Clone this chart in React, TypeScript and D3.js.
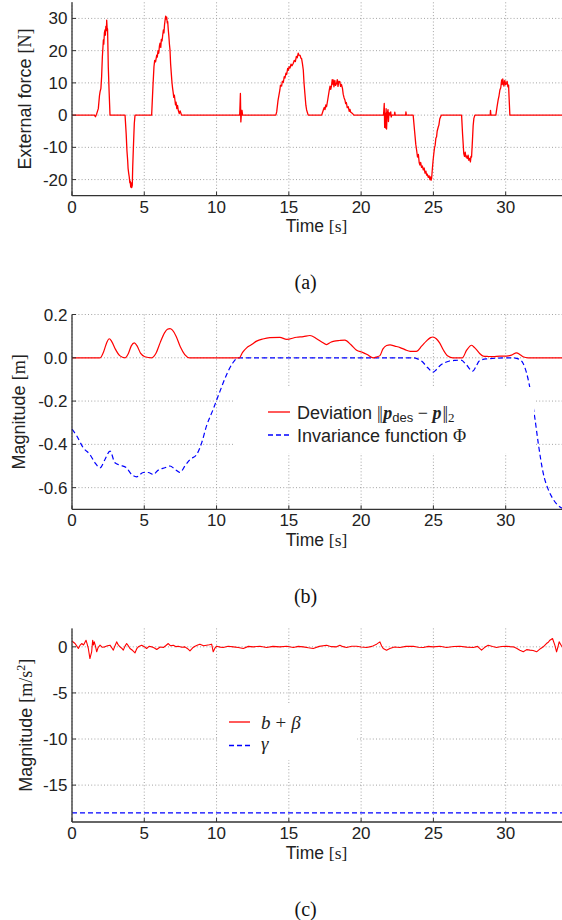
import React from "react";
import * as d3 from "d3";

// ---------- DATA ----------
const xTicks = [0, 5, 10, 15, 20, 25, 30];
const forceTicks = [30, 20, 10, 0, -10, -20];
const magTicksB = [0.2, 0.0, -0.2, -0.4, -0.6];
const magTicksC = [0, -5, -10, -15];

// (a) external force [t, F]
const forceData: [number, number][] = [
  [0, 0], [1.55, 0], [1.62, -0.5], [1.7, 0.3], [1.82, 2], [1.9, 6], [1.94, 7.2], [2.0, 8.3], [2.05, 12], [2.1, 18],
  [2.17, 23.3], [2.2, 22], [2.24, 25.5], [2.28, 26.4], [2.31, 24.8], [2.34, 27.5], [2.38, 26.2], [2.4, 29.5], [2.43, 27],
  [2.46, 26.7], [2.49, 20], [2.51, 15], [2.57, 7], [2.63, 0],
  [3.67, 0], [3.75, -6], [3.8, -11], [3.85, -14], [3.88, -16.5], [3.92, -18], [3.96, -19.2], [4.0, -21], [4.03, -20.5],
  [4.06, -22.3], [4.1, -21], [4.13, -22.5], [4.17, -21.8], [4.2, -16], [4.24, -10.9], [4.28, -6], [4.31, -2.6], [4.36, 0],
  [5.51, 0], [5.6, 9], [5.67, 15], [5.72, 17], [5.78, 16.5], [5.86, 18.6], [5.9, 18], [5.95, 20], [6.0, 19.2], [6.05, 21.5],
  [6.09, 22.3], [6.14, 21], [6.18, 23.5], [6.23, 23], [6.28, 25], [6.32, 26.4], [6.36, 25.5], [6.4, 28], [6.44, 29.5],
  [6.48, 30.7], [6.52, 29.8], [6.55, 30.4], [6.59, 28.6], [6.62, 29], [6.66, 26.5], [6.7, 24.5], [6.74, 22], [6.78, 20.2],
  [6.82, 16], [6.86, 13.5], [6.9, 11], [6.93, 9.5], [6.96, 8.3], [7.0, 7], [7.04, 5.5], [7.08, 6.2], [7.12, 4.7], [7.16, 3.2],
  [7.2, 4], [7.25, 2], [7.3, 3], [7.35, 1.5], [7.42, 0.5], [7.48, 1.3], [7.58, 0],
  [11.6, 0], [11.65, 6.7], [11.68, -2.1], [11.72, 0.5], [11.76, 1.5], [11.8, 0],
  [14.1, 0], [14.16, 1], [14.25, 4.5], [14.38, 7.8], [14.42, 9.3], [14.5, 9], [14.55, 10.5], [14.62, 10.2], [14.68, 11.9],
  [14.73, 11.5], [14.8, 13], [14.85, 12.6], [14.92, 14.5], [14.96, 13.9], [15.02, 15], [15.08, 14.6], [15.15, 15.8],
  [15.22, 15.3], [15.3, 16], [15.38, 17], [15.45, 16.6], [15.52, 18.2], [15.58, 17.8], [15.65, 19.2], [15.7, 18.6],
  [15.78, 18.5], [15.84, 17.6], [15.88, 17.6], [15.94, 16], [16.0, 14], [16.05, 10], [16.11, 6.7], [16.18, 3], [16.23, 1.6],
  [16.34, 0],
  [17.27, 0], [17.38, 1.5], [17.45, 2.4], [17.5, 1.7], [17.56, 3.2], [17.61, 2.6], [17.7, 5], [17.8, 7.8], [17.85, 9],
  [17.9, 8], [17.96, 9.3], [18.0, 11], [18.04, 9.6], [18.07, 10.9], [18.12, 8.8], [18.18, 10.8], [18.23, 9.2], [18.3, 9.8],
  [18.35, 11], [18.4, 8.9], [18.46, 10.5], [18.53, 10.4], [18.58, 8.9], [18.64, 9.5], [18.71, 8.3], [18.76, 6.5],
  [18.82, 5.4], [18.88, 4.7], [18.93, 3.6], [18.98, 3.9], [19.04, 2.3], [19.11, 2.6], [19.18, 1.2], [19.23, 1.8],
  [19.27, 1], [19.38, 0.6], [19.5, 0],
  [21.55, 0], [21.6, 3.6], [21.63, -3.8], [21.67, 0.5], [21.7, -4], [21.73, 2], [21.76, -4.3], [21.8, 0.2], [21.86, 1.7],
  [21.89, -2], [21.93, 0.8], [22.0, 0], [22.05, 1], [22.08, -0.6], [22.12, 0], [22.3, 0], [22.33, 0.9], [22.36, 0],
  [23.08, 0], [23.1, 1], [23.13, 0],
  [23.6, 0], [23.7, -5], [23.78, -9], [23.84, -10.9], [23.9, -13], [23.96, -12.2], [24.02, -14.8], [24.07, -15.5],
  [24.12, -14.7], [24.18, -16.2], [24.24, -15.8], [24.3, -17], [24.36, -16.4], [24.42, -18], [24.48, -17.4], [24.53, -18.6],
  [24.58, -18.3], [24.64, -19.3], [24.7, -18.8], [24.76, -20], [24.8, -19.2], [24.84, -20.2], [24.88, -19.5], [24.94, -16],
  [24.98, -14], [25.03, -11.9], [25.08, -10], [25.12, -9.4], [25.17, -7.2], [25.22, -6.7], [25.26, -5], [25.3, -4.3],
  [25.34, -3.6], [25.38, -3.1], [25.44, -1.2], [25.5, -0.5], [25.56, 0],
  [26.95, 0], [27.02, -6], [27.1, -11.9], [27.15, -12.8], [27.2, -11.5], [27.25, -13], [27.29, -12.7], [27.34, -13.5],
  [27.4, -12.4], [27.45, -14], [27.52, -13.4], [27.56, -14.5], [27.6, -12.8], [27.64, -13], [27.7, -8], [27.75, -3.3],
  [27.8, -1], [27.87, 0],
  [28.93, 0], [28.95, 1.5], [28.98, 0],
  [29.32, 0], [29.4, 2.5], [29.48, 4.7], [29.54, 6], [29.6, 7.8], [29.66, 8.5], [29.72, 10.9], [29.76, 9.5], [29.8, 11.2],
  [29.83, 10.4], [29.88, 9], [29.94, 10.8], [30.0, 9.5], [30.06, 9.8], [30.1, 10.5], [30.15, 8.8], [30.2, 9.3], [30.24, 5],
  [30.29, 0], [34, 0],
];

// (b) deviation ||p_des - p||_2
const deviationData: [number, number][] = [
  [0, 0], [1.94, 0], [2.2, 0.03], [2.4, 0.07], [2.58, 0.088], [2.75, 0.075], [3.0, 0.04], [3.3, 0.01], [3.67, 0],
  [3.9, 0.02], [4.1, 0.055], [4.31, 0.069], [4.5, 0.055], [4.75, 0.02], [5.04, 0.005], [5.5, 0], [5.8, 0.02],
  [6.1, 0.07], [6.4, 0.115], [6.6, 0.132], [6.78, 0.135], [6.95, 0.128], [7.2, 0.1], [7.5, 0.05], [7.8, 0.015],
  [8.14, 0], [11.57, 0], [11.8, 0.025], [12.08, 0.046], [12.4, 0.06], [12.77, 0.077], [13.2, 0.087], [13.69, 0.093],
  [14.38, 0.094], [14.85, 0.085], [15.54, 0.095], [16.0, 0.098], [16.46, 0.103], [16.92, 0.088], [17.3, 0.072],
  [17.61, 0.061], [17.9, 0.072], [18.15, 0.077], [18.5, 0.08], [18.88, 0.082], [19.3, 0.06], [19.69, 0.035],
  [20.1, 0.025], [20.42, 0.015], [20.84, 0.0], [21.1, 0.005], [21.3, 0.01], [21.5, 0.04], [21.76, 0.057], [22.0, 0.06],
  [22.33, 0.054], [22.7, 0.047], [23.03, 0.038], [23.4, 0.03], [23.82, 0.03], [24.2, 0.055], [24.51, 0.077],
  [24.8, 0.093], [24.97, 0.096], [25.2, 0.088], [25.43, 0.069], [25.7, 0.035], [26.0, 0.008], [26.35, 0], [27.0, 0],
  [27.3, 0.035], [27.64, 0.058], [27.8, 0.05], [27.98, 0.038], [28.2, 0.02], [28.44, 0.008], [28.8, 0.006],
  [29.13, 0.005], [29.6, 0.008], [30.06, 0.008], [30.4, 0.012], [30.75, 0.023], [31.0, 0.014], [31.2, 0.005],
  [31.55, 0], [34, 0],
];

// (b) invariance function Phi
const invarianceData: [number, number][] = [
  [0, -0.33], [0.32, -0.36], [0.78, -0.416], [1.24, -0.447], [1.59, -0.485], [1.94, -0.508], [2.28, -0.47],
  [2.63, -0.431], [2.97, -0.485], [3.32, -0.496], [3.76, -0.508], [4.12, -0.539], [4.47, -0.55], [4.93, -0.53],
  [5.28, -0.53], [5.62, -0.539], [5.95, -0.52], [6.43, -0.508], [6.78, -0.5], [7.12, -0.515], [7.47, -0.53],
  [7.81, -0.5], [8.16, -0.47], [8.62, -0.447], [8.97, -0.393], [9.3, -0.316], [9.76, -0.239], [10.24, -0.154],
  [10.7, -0.077], [11.13, -0.023], [11.5, 0], [23.6, 0], [23.9, -0.005], [24.18, -0.015], [24.6, -0.045],
  [24.97, -0.066], [25.2, -0.055], [25.43, -0.038], [25.8, -0.022], [26.12, -0.015], [26.5, -0.012], [26.92, -0.011],
  [27.26, -0.031], [27.72, -0.062], [27.95, -0.04], [28.17, -0.015], [28.64, -0.005], [30.5, 0], [30.98, -0.008],
  [31.2, -0.025], [31.44, -0.069], [31.78, -0.177], [32.0, -0.27], [32.25, -0.393], [32.59, -0.531], [32.94, -0.608],
  [33.29, -0.654], [33.73, -0.688], [34, -0.697],
];

// (c) b + beta
const bBetaData: [number, number][] = [
  [0, 0.65], [0.1, 0.5], [0.21, 0.36], [0.32, 0.1], [0.44, -0.18], [0.55, 0.15], [0.67, 0.36], [0.8, 0.2], [0.97, 0.72],
  [1.05, 0.3], [1.13, -0.18], [1.24, -1.27], [1.3, -0.9], [1.36, -0.54], [1.43, 0.72], [1.48, 0.2], [1.54, 0.54],
  [1.62, 0.1], [1.71, -0.54], [1.8, -0.1], [1.94, 0.18], [2.1, -0.05], [2.28, 0], [2.45, 0.12], [2.63, 0.18],
  [2.75, -0.1], [2.86, -0.36], [2.97, 0.1], [3.09, 0.54], [3.2, 0.2], [3.32, 0], [3.44, -0.15], [3.55, -0.36],
  [3.66, 0.05], [3.78, 0.36], [3.9, 0.1], [4.01, -0.18], [4.2, -0.4], [4.36, -0.65], [4.48, -0.2], [4.59, 0],
  [4.7, 0.1], [4.82, 0.18], [5.0, 0.02], [5.16, -0.18], [5.33, 0.06], [5.51, 0], [5.7, -0.12], [5.86, -0.29],
  [6.1, -0.02], [6.32, -0.07], [6.5, 0.15], [6.66, 0.36], [6.8, 0.12], [7.01, 0.18], [7.2, 0.02], [7.35, 0.07],
  [7.6, -0.05], [7.81, 0], [8.0, -0.2], [8.16, -0.43], [8.35, -0.1], [8.51, 0.07], [8.7, 0.2], [8.85, 0.29],
  [9.1, 0.12], [9.31, 0.18], [9.5, 0.22], [9.66, 0.29], [9.77, -0.54], [9.9, -0.1], [10.0, 0.07], [10.25, -0.03],
  [10.46, -0.07], [10.8, 0.06], [11.16, 0], [11.5, -0.08], [11.85, -0.18], [12.2, 0.05], [12.54, 0], [13.0, 0.06],
  [13.46, -0.07], [13.9, 0.05], [14.38, 0], [14.85, 0.06], [15.31, -0.07], [15.65, 0.05], [16.0, 0], [16.35, -0.1],
  [16.69, -0.18], [17.1, 0.05], [17.61, 0.18], [17.95, 0.02], [18.3, 0], [18.53, 0.18], [18.75, 0.02], [18.99, -0.07],
  [19.35, 0.06], [19.69, 0.07], [20.0, -0.02], [20.38, -0.07], [20.75, 0.05], [21.07, 0.29], [21.3, 0.54],
  [21.42, 0.1], [21.53, -0.18], [21.76, -0.36], [21.99, -0.18], [22.3, -0.02], [22.68, -0.07], [23.1, 0.05],
  [23.61, 0.07], [23.95, -0.05], [24.3, -0.07], [24.65, 0.05], [24.99, 0], [25.45, 0.06], [25.91, -0.07],
  [26.4, 0.04], [26.83, 0.07], [27.3, -0.03], [27.76, -0.07], [28.05, 0.05], [28.33, -0.36], [28.55, -0.05],
  [28.79, 0.18], [29.1, 0.04], [29.37, -0.07], [29.7, 0.03], [30.06, 0.07], [30.3, 0.02], [30.52, 0], [30.75, -0.15],
  [30.98, -0.36], [31.22, -0.54], [31.45, -0.3], [31.68, -0.36], [31.9, -0.4], [32.14, -0.54], [32.4, -0.2],
  [32.6, 0], [32.82, 0.36], [32.95, 0.5], [33.06, 0.72], [33.24, 0.9], [33.4, 0.18], [33.52, -0.54], [33.6, -0.1],
  [33.7, 0.54], [33.9, 0], [34, 0.1],
];

// (c) gamma
const gammaData: [number, number][] = [[0, -18], [34, -18]];

// ---------- LAYOUT ----------
const W = 562;
const H = 920;
const X0 = 72;
const X1 = 563.5;
const SANS = "'Liberation Sans', Arial, Helvetica, sans-serif";
const SERIF = "'Liberation Serif', 'Times New Roman', serif";
const TICK_FS = 17;
const LABEL_FS = 18;

type PanelProps = {
  top: number;
  bottom: number;
  yDomain: [number, number];
  yTicks: number[];
  fmt: (v: number) => string;
  children: (x: d3.ScaleLinear<number, number>, y: d3.ScaleLinear<number, number>) => React.ReactNode;
  ylabel: React.ReactNode;
  ylabelX: number;
  caption: string;
  captionY: number;
};

function Panel({ top, bottom, yDomain, yTicks, fmt, children, ylabel, ylabelX, caption, captionY }: PanelProps) {
  const x = d3.scaleLinear().domain([0, 34]).range([X0, X1]);
  const y = d3.scaleLinear().domain(yDomain).range([bottom, top]);
  const midY = (top + bottom) / 2;
  return (
    <g>
      {xTicks.map((t) => (
        <line key={"gx" + t} x1={x(t)} x2={x(t)} y1={top} y2={bottom} stroke="#9a9a9a" strokeWidth={0.9} strokeDasharray="1,2.2" />
      ))}
      {yTicks.map((t) => (
        <line key={"gy" + t} x1={X0} x2={W} y1={y(t)} y2={y(t)} stroke="#9a9a9a" strokeWidth={0.9} strokeDasharray="1,2.2" />
      ))}
      {children(x, y)}
      <line x1={X0} x2={X0} y1={top} y2={bottom} stroke="#333" strokeWidth={1.3} />
      <line x1={X0} x2={W} y1={bottom} y2={bottom} stroke="#333" strokeWidth={1.3} />
      {xTicks.map((t) => (
        <g key={"tx" + t}>
          <line x1={x(t)} x2={x(t)} y1={bottom} y2={bottom - 4} stroke="#333" strokeWidth={1} />
          <text x={x(t)} y={bottom + 17} textAnchor="middle" fontFamily={SANS} fontSize={TICK_FS} fill="#222">
            {t}
          </text>
        </g>
      ))}
      {yTicks.map((t) => (
        <g key={"ty" + t}>
          <line x1={X0} x2={X0 + 4} y1={y(t)} y2={y(t)} stroke="#333" strokeWidth={1} />
          <text x={X0 - 4.5} y={y(t) + 6} textAnchor="end" fontFamily={SANS} fontSize={TICK_FS} fill="#222">
            {fmt(t)}
          </text>
        </g>
      ))}
      <text x={316.5} y={bottom + 36.5} textAnchor="middle" fontFamily={SANS} fontSize={17.5} fill="#222">
        Time <tspan fontFamily={SERIF}>[s]</tspan>
      </text>
      <text
        transform={`translate(${ylabelX},${midY}) rotate(-90)`}
        textAnchor="middle"
        fontFamily={SANS}
        fontSize={LABEL_FS}
        fill="#222"
      >
        {ylabel}
      </text>
      <text x={305.6} y={captionY} textAnchor="middle" fontFamily={SERIF} fontSize={20} fill="#111">
        {caption}
      </text>
    </g>
  );
}

export default function App() {
  const lineLin = (x: any, y: any) =>
    d3
      .line<[number, number]>()
      .x((d) => x(d[0]))
      .y((d) => y(d[1]))
      .curve(d3.curveLinear);
  const lineSmooth = (x: any, y: any) =>
    d3
      .line<[number, number]>()
      .x((d) => x(d[0]))
      .y((d) => y(d[1]))
      .curve(d3.curveMonotoneX);

  return (
    <svg width={W} height={H} style={{ position: "absolute", left: 0, top: 0, background: "#fff" }}>
      <rect x={0} y={0} width={W} height={H} fill="#fff" />
      {/* (a) */}
      <Panel
        top={2.3}
        bottom={195.7}
        yDomain={[-25, 35]}
        yTicks={forceTicks}
        fmt={(v) => String(v)}
        ylabel={
          <>
            External force <tspan fontFamily={SERIF}>[N]</tspan>
          </>
        }
        ylabelX={31}
        caption="(a)"
        captionY={289}
      >
        {(x, y) => (
          <path d={lineLin(x, y)(forceData) || ""} fill="none" stroke="#ff0000" strokeWidth={1.3} strokeLinejoin="round" />
        )}
      </Panel>

      {/* (b) */}
      <Panel
        top={314.5}
        bottom={509.3}
        yDomain={[-0.7, 0.2]}
        yTicks={magTicksB}
        fmt={(v) => d3.format(".1f")(v).replace("−", "-")}
        ylabel={
          <>
            Magnitude <tspan fontFamily={SERIF}>[m]</tspan>
          </>
        }
        ylabelX={25}
        caption="(b)"
        captionY={602.5}
      >
        {(x, y) => (
          <g>
            <path d={lineSmooth(x, y)(invarianceData) || ""} fill="none" stroke="#0000ff" strokeWidth={1.2} strokeDasharray="5,3" />
            <path d={lineSmooth(x, y)(deviationData) || ""} fill="none" stroke="#ff0000" strokeWidth={1.2} />
            <rect x={234} y={387} width={300} height={66} fill="#fff" />
            <line x1={268} x2={290} y1={412} y2={412} stroke="#ff0000" strokeWidth={1.3} />
            <line x1={268} x2={290} y1={435} y2={435} stroke="#0000ff" strokeWidth={1.3} strokeDasharray="5,3" />
            <text x={297} y={418.5} fontFamily={SANS} fontSize={LABEL_FS} fill="#222">
              Deviation <tspan fontFamily={SERIF} letterSpacing={-1.5}>||</tspan>
              <tspan fontFamily={SERIF} fontWeight="bold" fontStyle="italic" dx={2}>p</tspan>
              <tspan fontSize={13} dy={3.5}>des</tspan>
              <tspan fontFamily={SERIF} dy={-3.5}> − </tspan>
              <tspan fontFamily={SERIF} fontWeight="bold" fontStyle="italic">p</tspan>
              <tspan fontFamily={SERIF} letterSpacing={-1.5} dx={1}>||</tspan>
              <tspan fontFamily={SERIF} fontSize={13} dy={3.5} dx={1.5}>2</tspan>
            </text>
            <text x={297} y={441.5} fontFamily={SANS} fontSize={LABEL_FS} fill="#222">
              Invariance function <tspan fontFamily={SERIF}>Φ</tspan>
            </text>
          </g>
        )}
      </Panel>

      {/* (c) */}
      <Panel
        top={628.4}
        bottom={822}
        yDomain={[-19, 2]}
        yTicks={magTicksC}
        fmt={(v) => String(v)}
        ylabel={
          <>
            Magnitude <tspan fontFamily={SERIF}>[m/s</tspan>
            <tspan fontFamily={SERIF} fontSize={12} dy={-7}>2</tspan>
            <tspan fontFamily={SERIF} dy={7}>]</tspan>
          </>
        }
        ylabelX={32}
        caption="(c)"
        captionY={915.5}
      >
        {(x, y) => (
          <g>
            <path d={lineLin(x, y)(gammaData) || ""} fill="none" stroke="#0000ff" strokeWidth={1.3} strokeDasharray="5,3" />
            <path d={lineLin(x, y)(bBetaData) || ""} fill="none" stroke="#ff0000" strokeWidth={1.1} strokeLinejoin="round" />
            <rect x={219} y={704} width={138} height={56} fill="#fff" />
            <line x1={229} x2={250} y1={722} y2={722} stroke="#ff0000" strokeWidth={1.3} />
            <line x1={229} x2={250} y1={745.5} y2={745.5} stroke="#0000ff" strokeWidth={1.3} strokeDasharray="5,3" />
            <text x={261} y={728.5} fontFamily={SERIF} fontSize={19} fill="#222">
              <tspan fontStyle="italic">b</tspan>
              <tspan dx={5}>+</tspan>
              <tspan dx={5} fontStyle="italic">β</tspan>
            </text>
            <text x={261} y={750} fontFamily={SERIF} fontSize={19} fill="#222">
              <tspan fontStyle="italic">γ</tspan>
            </text>
          </g>
        )}
      </Panel>
    </svg>
  );
}
